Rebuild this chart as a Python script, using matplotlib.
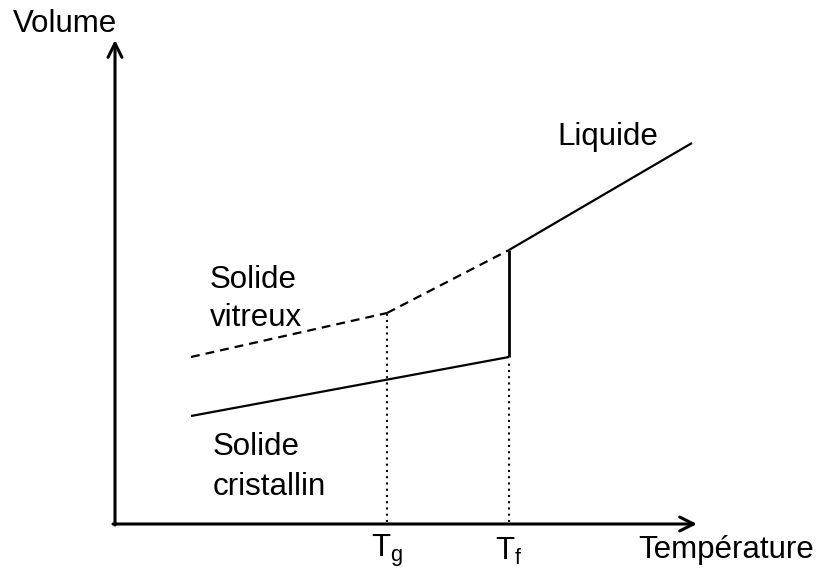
import matplotlib
matplotlib.use("Agg")
import matplotlib.pyplot as plt

plt.rcParams['font.family'] = ['Liberation Sans', 'DejaVu Sans']
plt.rcParams['mathtext.fontset'] = 'custom'
plt.rcParams['mathtext.rm'] = 'Liberation Sans'

# Data (schematic units)
T_crystal = [76, 394]
V_crystal = [108, 167]
T_jump = [394, 394]
V_jump = [167, 274]
T_liquid = [394, 577]
V_liquid = [274, 381]
T_glass = [76, 272, 394]
V_glass = [167, 211, 274]
Tg = 272
Tf = 394
V_tg = 211
V_tf = 163
x_tip = 582
y_tip = 484

fig = plt.figure(figsize=(8.2, 5.84), dpi=100)
ax = fig.add_axes([0, 0, 1, 1])
ax.set_xlim(-115, 705)
ax.set_ylim(-60, 524)
ax.axis('off')

lw = 1.6
ax.plot(T_crystal, V_crystal, color='black', lw=lw, solid_capstyle='butt')
ax.plot(T_jump, V_jump, color='black', lw=lw + 0.4, solid_capstyle='butt')
ax.plot(T_liquid, V_liquid, color='black', lw=lw, solid_capstyle='butt')
ax.plot(T_glass[:2], V_glass[:2], color='black', lw=lw, linestyle=(0, (4, 2.7)))
ax.plot(T_glass[1:], V_glass[1:], color='black', lw=lw, linestyle=(0, (4, 2.7)))
ax.plot([Tg, Tg], [2, V_tg], color='black', lw=1.5, linestyle=(0, (1, 2)))
ax.plot([Tf, Tf], [2, V_tf], color='black', lw=1.5, linestyle=(0, (1, 2)))

# axes with arrows
ax.annotate('', xy=(x_tip, 0), xytext=(-2, 0),
            arrowprops=dict(arrowstyle='->,head_length=1.0,head_width=0.5', lw=2.2, color='black',
                            shrinkA=0, shrinkB=0))
ax.annotate('', xy=(0, y_tip), xytext=(0, -1),
            arrowprops=dict(arrowstyle='->,head_length=1.0,head_width=0.5', lw=2.2, color='black',
                            shrinkA=0, shrinkB=0))

fs = 22.5
ax.text(-50, 500, 'Volume', fontsize=fs, ha='center', va='center')
ax.text(523, -26, 'Température', fontsize=fs, ha='left', va='center')
ax.text(Tg, -27, r'$\mathregular{T_g}$', fontsize=fs, ha='center', va='center')
ax.text(Tf, -27, r'$\mathregular{T_f}$', fontsize=fs, ha='center', va='center')
ax.text(442, 387, 'Liquide', fontsize=fs, ha='left', va='center')
ax.text(95, 244, 'Solide', fontsize=fs, ha='left', va='center')
ax.text(95, 206, 'vitreux', fontsize=fs, ha='left', va='center')
ax.text(98, 77, 'Solide', fontsize=fs, ha='left', va='center')
ax.text(98, 37, 'cristallin', fontsize=fs, ha='left', va='center')

fig.savefig('out.png', dpi=100)
